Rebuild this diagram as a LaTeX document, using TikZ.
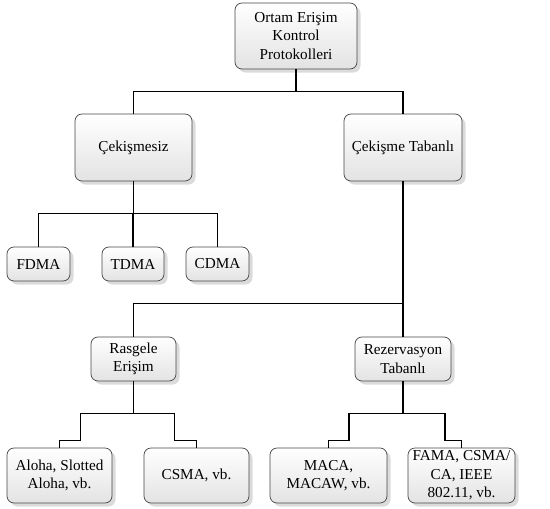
\documentclass[tikz,border=0pt]{standalone}
\usepackage{fontspec}
\setmainfont{Liberation Serif}
\usetikzlibrary{shadows}

\begin{document}
\begin{tikzpicture}[x=1pt,y=-1pt,
  font=\fontsize{15.2}{18.5}\selectfont,
  box/.style={draw=gray!55!black,line width=0.7pt,rounded corners=7pt,align=center,inner sep=2pt,
    top color=white,bottom color=gray!22,
    drop shadow={shadow xshift=3.5pt,shadow yshift=-3.5pt,fill=gray!35,opacity=0.8}},
  conn/.style={line width=1.6pt,black}]
\useasboundingbox (0,0) rectangle (550,509);
% ---------- root ----------
\node[box,minimum width=122pt,minimum height=66pt] (mac) at (296,36) {Ortam Erişim\\Kontrol\\Protokolleri};
% ---------- level 1 ----------
\node[box,minimum width=117pt,minimum height=67pt] (free) at (133.5,147.5) {Çekişmesiz};
\node[box,minimum width=118pt,minimum height=67pt] (cont) at (403,147.5) {Çekişme Tabanlı};
% ---------- contention-free ----------
\node[box,minimum width=63pt,minimum height=34pt] (fdma) at (38.5,264) {FDMA};
\node[box,minimum width=62pt,minimum height=34pt] (tdma) at (133,264) {TDMA};
\node[box,minimum width=63pt,minimum height=34pt] (cdma) at (217.5,264) {CDMA};
% ---------- contention-based ----------
\node[box,minimum width=85pt,minimum height=44pt] (rand) at (133.5,359) {Rasgele\\Erişim};
\node[box,minimum width=96pt,minimum height=44pt] (resv) at (403,359) {Rezervasyon\\Tabanlı};
% ---------- leaves ----------
\node[box,minimum width=105pt,minimum height=55pt] (aloha) at (59.5,475.5) {Aloha, Slotted\\Aloha, vb.};
\node[box,minimum width=105pt,minimum height=55pt] (csma) at (196.5,475.5) {CSMA, vb.};
\node[box,minimum width=117pt,minimum height=55pt] (maca) at (328.5,475.5) {MACA,\\MACAW, vb.};
\node[box,minimum width=107pt,minimum height=55pt] (fama) at (461.5,475.5) {FAMA, CSMA/\\CA, IEEE\\802.11, vb.};
% ---------- connectors ----------
\draw[conn] (mac.south) -- ++(0,22) -| (free.north);
\draw[conn] (mac.south) -- ++(0,22) -| (cont.north);
\foreach \k in {fdma,tdma,cdma}
  \draw[conn] (free.south) -- ++(0,32) -| (\k.north);
\draw[conn] (cont.south) -- ++(0,122) -| (rand.north);
\draw[conn] (cont.south) -- (resv.north);
\draw[conn] (rand.south) -- ++(0,32) -| ++(-53,27) -| (aloha.north);
\draw[conn] (rand.south) -- ++(0,32) -| ++(41,27) -| (csma.north);
\draw[conn] (resv.south) -- ++(0,32) -| ++(-54,27) -| (maca.north);
\draw[conn] (resv.south) -- ++(0,32) -| ++(42,27) -| (fama.north);
\end{tikzpicture}
\end{document}
